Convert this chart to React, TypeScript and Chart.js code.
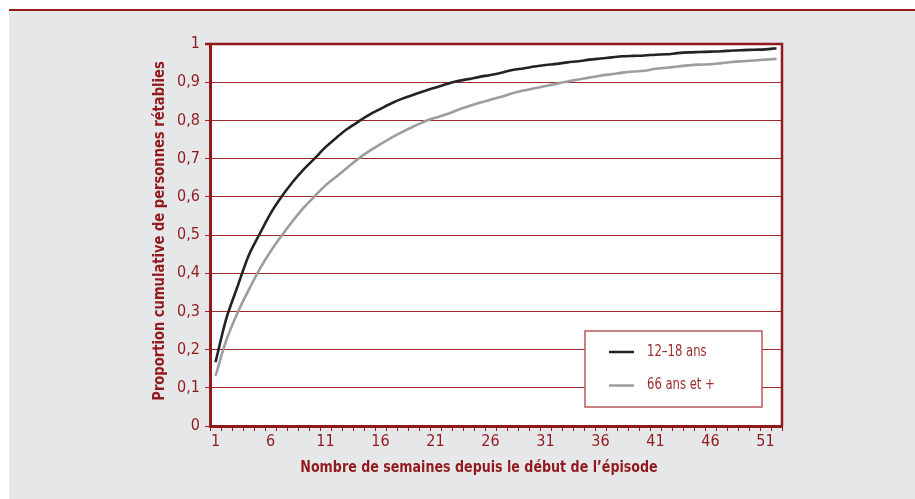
import React, { useEffect, useRef } from "react";
import { Chart, registerables } from "chart.js";
Chart.register(...registerables);

const weeks = [
  "1","2","3","4","5","6","7","8","9","10","11","12","13","14","15","16","17","18","19","20",
  "21","22","23","24","25","26","27","28","29","30","31","32","33","34","35","36","37","38","39","40",
  "41","42","43","44","45","46","47","48","49","50","51","52",
];
const xTickShown = ["1","6","11","16","21","26","31","36","41","46","51"];

const serieYoung = [
  0.167, 0.283, 0.365, 0.445, 0.502, 0.556, 0.600, 0.638, 0.671, 0.700,
  0.730, 0.755, 0.778, 0.797, 0.815, 0.830, 0.845, 0.857, 0.867, 0.877,
  0.886, 0.895, 0.903, 0.908, 0.914, 0.919, 0.925, 0.932, 0.936, 0.941,
  0.945, 0.948, 0.952, 0.955, 0.959, 0.962, 0.965, 0.968, 0.969, 0.970,
  0.972, 0.973, 0.976, 0.978, 0.979, 0.980, 0.981, 0.983, 0.984, 0.985,
  0.986, 0.989,
];
const serieOld = [
  0.131, 0.226, 0.296, 0.355, 0.410, 0.457, 0.498, 0.536, 0.571, 0.601,
  0.630, 0.653, 0.677, 0.700, 0.720, 0.738, 0.755, 0.770, 0.784, 0.797,
  0.807, 0.816, 0.827, 0.837, 0.846, 0.854, 0.862, 0.871, 0.878, 0.884,
  0.890, 0.896, 0.902, 0.907, 0.912, 0.917, 0.921, 0.925, 0.928, 0.930,
  0.935, 0.938, 0.941, 0.944, 0.946, 0.947, 0.950, 0.953, 0.955, 0.957,
  0.959, 0.961,
];
const seriesLabels = ["12–18 ans", "66 ans et +"];
const yTickLabels = ["0","0,1","0,2","0,3","0,4","0,5","0,6","0,7","0,8","0,9","1"];
const yTitle = "Proportion cumulative de personnes rétablies";
const xTitle = "Nombre de semaines depuis le début de l’épisode";

const RED = "#921a1e";
const GRID = "#a3282b";
const FONT = "'Liberation Sans Narrow', 'DejaVu Sans Condensed', 'Roboto Condensed', sans-serif";

function squeezedText(ctx: any, text: string, x: number, y: number, sx: number, rot = 0) {
  ctx.save();
  ctx.translate(x, y);
  if (rot) ctx.rotate(rot);
  ctx.scale(sx, 1);
  ctx.fillText(text, 0, 0);
  ctx.restore();
}

const framePlugin = {
  id: "framePlugin",
  beforeDraw(chart: any) {
    const { ctx, chartArea } = chart;
    ctx.save();
    ctx.fillStyle = "#ffffff";
    ctx.fillRect(chartArea.left, chartArea.top, chartArea.right - chartArea.left, chartArea.bottom - chartArea.top);
    ctx.restore();
  },
  afterDatasetsDraw(chart: any) {
    const { ctx, chartArea } = chart;
    ctx.save();
    // top and right border
    ctx.strokeStyle = RED;
    ctx.lineWidth = 2.5;
    ctx.beginPath();
    ctx.moveTo(chartArea.left - 5, chartArea.top);
    ctx.lineTo(chartArea.right, chartArea.top);
    ctx.lineTo(chartArea.right, chartArea.bottom);
    ctx.stroke();

    // legend box
    const bx = 585, by = 331, bw = 177, bh = 76;
    ctx.fillStyle = "#ffffff";
    ctx.fillRect(bx, by, bw, bh);
    ctx.strokeStyle = "#b9585a";
    ctx.lineWidth = 1.5;
    ctx.strokeRect(bx, by, bw, bh);
    const ds = chart.data.datasets;
    const rows = [352, 385.5];
    ds.forEach((d: any, i: number) => {
      ctx.strokeStyle = d.borderColor;
      ctx.lineWidth = 2.5;
      ctx.beginPath();
      ctx.moveTo(609, rows[i]);
      ctx.lineTo(634, rows[i]);
      ctx.stroke();
      ctx.fillStyle = "#9c2b2d";
      ctx.font = `15px ${FONT}`;
      ctx.textBaseline = "middle";
      ctx.textAlign = "left";
      squeezedText(ctx, d.label, 647, rows[i], 0.86);
    });

    // axis titles
    ctx.fillStyle = RED;
    ctx.font = `bold 16px ${FONT}`;
    ctx.textAlign = "center";
    ctx.textBaseline = "middle";
    squeezedText(ctx, xTitle, 479, 468, 0.88);
    squeezedText(ctx, yTitle, 160, 231, 0.91, -Math.PI / 2);
    ctx.restore();
  },
};

export default function App() {
  const ref = useRef<HTMLCanvasElement | null>(null);
  useEffect(() => {
    if (!ref.current) return;
    const chart = new Chart(ref.current, {
      type: "line",
      data: {
        labels: weeks,
        datasets: [
          {
            label: seriesLabels[0],
            data: serieYoung,
            borderColor: "#232323",
            borderWidth: 2.6,
            pointRadius: 0,
            tension: 0.3,
            fill: false,
          },
          {
            label: seriesLabels[1],
            data: serieOld,
            borderColor: "#9d9d9f",
            borderWidth: 2.6,
            pointRadius: 0,
            tension: 0.3,
            fill: false,
          },
        ],
      },
      options: {
        animation: false,
        responsive: false,
        devicePixelRatio: 1,
        layout: { padding: { left: 0, right: 133, top: 44, bottom: 0 } },
        plugins: { legend: { display: false }, tooltip: { enabled: false }, title: { display: false } },
        scales: {
          x: {
            type: "category",
            offset: true,
            afterFit: (s: any) => { s.height = 73; },
            grid: {
              offset: true,
              drawOnChartArea: false,
              drawTicks: true,
              tickLength: 5,
              color: RED,
              lineWidth: 1,
            },
            border: { display: true, color: RED, width: 3 },
            ticks: {
              autoSkip: false,
              maxRotation: 0,
              minRotation: 0,
              padding: 1,
              color: RED,
              font: { family: FONT, size: 16 },
              callback: (_v: any, i: number) => (xTickShown.includes(weeks[i]) ? weeks[i] : ""),
            },
          },
          y: {
            min: 0,
            max: 1,
            afterFit: (s: any) => { s.width = 210; },
            grid: {
              color: GRID,
              lineWidth: 1,
              drawTicks: true,
              tickLength: 5,
            },
            border: { display: true, color: RED, width: 3 },
            ticks: {
              stepSize: 0.1,
              padding: 5,
              color: RED,
              font: { family: FONT, size: 16 },
              callback: (v: any) => yTickLabels[Math.round(Number(v) * 10)],
            },
          },
        },
      },
      plugins: [framePlugin],
    });
    return () => chart.destroy();
  }, []);

  return (
    <div style={{ position: "absolute", left: 0, top: 0, width: 915, height: 499, background: "#ffffff", overflow: "hidden" }}>
      <div
        style={{
          position: "absolute",
          left: 9,
          top: 9,
          right: 0,
          bottom: 0,
          background: "#e6e7e9",
          borderTop: `2.5px solid ${RED}`,
        }}
      />
      <canvas ref={ref} width={915} height={499} style={{ position: "absolute", left: 0, top: 0, width: 915, height: 499 }} />
    </div>
  );
}
